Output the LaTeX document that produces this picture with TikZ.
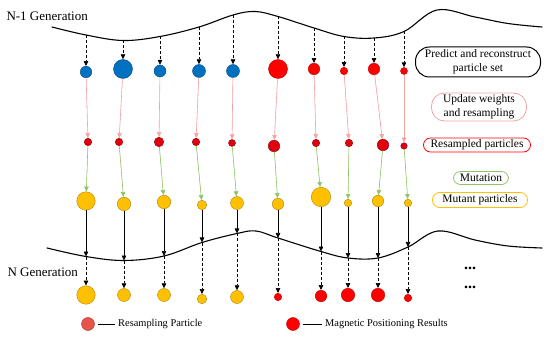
\documentclass[tikz,border=0pt]{standalone}
\usepackage{fontspec}
\setmainfont{Liberation Serif}
\usetikzlibrary{arrows.meta}

\definecolor{partblue}{HTML}{0070C0}
\definecolor{partred}{HTML}{FF0000}
\definecolor{resred}{HTML}{E2000F}
\definecolor{mutyellow}{HTML}{FFC000}
\definecolor{legred}{HTML}{E5534B}
\definecolor{updpink}{HTML}{F4A3A3}
\definecolor{mutgreen}{HTML}{8FC46A}

\begin{document}
\begin{tikzpicture}[x=1pt, y=-1pt, every node/.style={font=\rmfamily\fontsize{11.5}{14}\selectfont},
	>={Triangle[length=5pt,width=4.5pt]},
	part/.style={circle, inner sep=0pt, minimum size=#1, line width=0.4pt},
	bluepart/.style={part=#1, fill=partblue, draw=partblue!70!black},
	redpart/.style={part=#1, fill=partred, draw=partred!75!black},
	respart/.style={part=#1, fill=resred, draw=resred!60!black},
	yelpart/.style={part=#1, fill=mutyellow, draw=mutyellow!70!black},
	gencurve/.style={line width=1.1pt, line cap=round},
	dasharrow/.style={->, line width=0.6pt, dash pattern=on 3pt off 2pt},
	solidarrow/.style={->, line width=0.6pt},
	pinkarrow/.style={->, line width=0.6pt, draw=updpink, fill=updpink},
	greenarrow/.style={->, line width=0.6pt, draw=mutgreen, fill=mutgreen},
	stagebox/.style={rounded corners=7pt, line width=0.8pt, inner sep=0pt, align=center},
	legtext/.style={anchor=west, font=\rmfamily\fontsize{10.4}{12}\selectfont}]
	\useasboundingbox (0,0) rectangle (550,337);

	% generation N-1
	\node[anchor=west, font=\rmfamily\fontsize{13}{15}\selectfont] (gen1) at (3,16) {N-1 Generation};
	\foreach \i/\x/\y in {1/86/35, 2/123/40.5, 3/160/36.5, 4/199/27, 5/233/15, 6/278/16.5, 7/314/28, 8/344/36.5, 9/374/38, 10/404/31.5}
		\coordinate (t\i) at (\x,\y);
	\draw[gencurve] plot[smooth, tension=0.6] coordinates {(52,27) (t1) (t2) (t3) (t4) (t5) (255,11.5) (t6) (t7) (t8) (t9) (t10) (437,10) (475,17) (508,23.5) (542,27)};

	% predicted particles
	\foreach \i/\x/\y/\d in {1/86/72/11.5, 2/123/69/19, 3/160/71/12, 4/199/71/13, 5/233/71/13}
		\node[bluepart=\d] (a\i) at (\x,\y) {};
	\foreach \i/\x/\y/\d in {6/278/69/19, 7/314/69/11.5, 8/344/71/7.5, 9/374/69/11.5, 10/404/71/7}
		\node[redpart=\d] (a\i) at (\x,\y) {};

	% resampled particles
	\foreach \i/\x/\y/\d in {1/88/142/7.5, 2/119/142/7.5, 3/159/142/9.5, 4/196/142/7.5, 5/232/143/7, 6/274/146/11.5, 7/316/143/7.5, 8/349/143/7.5, 9/383/145/11.5, 10/404/146/6.5}
		\node[respart=\d] (b\i) at (\x,\y) {};

	% mutant particles
	\foreach \i/\x/\y/\d in {1/86/201/18.5, 2/124/204/13.5, 3/164/202/13.5, 4/202/205/9.5, 5/237/203/13, 6/278/204/11.5, 7/321/197/19.5, 8/348/203/7.5, 9/378/201/11.5, 10/408/203/7.5}
		\node[yelpart=\d] (c\i) at (\x,\y) {};

	% generation N
	\node[anchor=west, font=\rmfamily\fontsize{13}{15}\selectfont] (gen2) at (4,272) {N Generation};
	\foreach \i/\x/\y in {1/86/256.5, 2/124/260.5, 3/164/256, 4/202/242.5, 5/237/233.5, 6/278/238, 7/321/251.5, 8/348/258, 9/378/258, 10/408/247}
		\coordinate (g\i) at (\x,\y);
	\draw[gencurve] plot[smooth, tension=0.6] coordinates {(47,248) (g1) (g2) (g3) (g4) (g5) (256,231) (g6) (g7) (g8) (g9) (g10) (438,231) (475,240) (508,246) (542,248)};

	\foreach \i/\x/\y/\d in {1/86/295/18.5, 2/124/295/13, 3/164/295/13, 4/202/299/9.5, 5/237/297/13}
		\node[yelpart=\d] (e\i) at (\x,\y) {};
	\foreach \i/\x/\y/\d in {6/278/297/7.5, 7/321/296/11.5, 8/348/295/13.5, 9/378/295/13.5, 10/408/298/7.5}
		\node[redpart=\d] (e\i) at (\x,\y) {};

	% arrows between stages
	\foreach \i in {1,...,10} {
		\draw[dasharrow] (t\i) -- (a\i);
		\draw[pinkarrow] (a\i) -- (b\i);
		\draw[greenarrow] (b\i) -- (c\i);
		\draw[solidarrow] (c\i) -- (g\i);
		\draw[dasharrow] (g\i) -- (e\i);
	}

	% stage labels
	\node[stagebox, draw=black, rounded corners=14pt, line width=1pt, minimum width=125pt, minimum height=30pt] (predict) at (478,62) {Predict and reconstruct\\particle set};
	\node[stagebox, draw=updpink, rounded corners=13pt, minimum width=95pt, minimum height=28pt] (update) at (479,107) {Update weights\\and resampling};
	\node[stagebox, draw=partred, minimum width=107pt, minimum height=14pt] (resampled) at (477,145) {Resampled particles};
	\node[stagebox, draw=mutgreen, minimum width=55pt, minimum height=13pt] (mutation) at (481,178) {Mutation};
	\node[stagebox, draw=mutyellow, minimum width=95pt, minimum height=15pt] (mutant) at (480,200) {Mutant particles};

	\node[font=\rmfamily\bfseries\fontsize{16}{16}\selectfont] (dots1) at (470,268) {...};
	\node[font=\rmfamily\bfseries\fontsize{16}{16}\selectfont] (dots2) at (470,287) {...};

	% legend
	\node[part=13, fill=legred, draw=legred!70!black] (leg1) at (88,324) {};
	\node[legtext] (leg1txt) at (114.7,324) {Resampling Particle};
	\draw[line width=0.7pt] ([xshift=3.5pt]leg1.east) -- (leg1txt.west);
	\node[part=13, fill=partred, draw=partred!75!black] (leg2) at (293,324) {};
	\node[legtext] (leg2txt) at (321.7,324) {Magnetic Positioning Results};
	\draw[line width=0.7pt] ([xshift=3.5pt]leg2.east) -- (leg2txt.west);
\end{tikzpicture}
\end{document}
